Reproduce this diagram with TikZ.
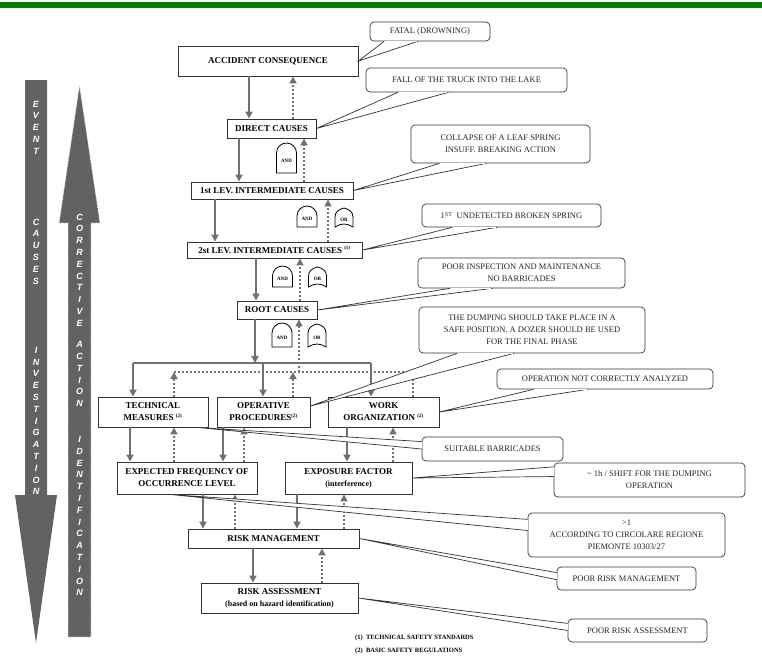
\documentclass[tikz,border=0pt]{standalone}
\usepackage{fontspec}
\setmainfont{Liberation Serif}
\newfontfamily\sansletters{Liberation Sans}
\usepackage{tikz}
\usetikzlibrary{shapes,arrows.meta,calc}

\definecolor{lineGray}{RGB}{112,112,112}
\definecolor{arrowGray}{RGB}{98,98,98}
\definecolor{barGreen}{RGB}{0,128,0}

% fault tree gates: name, x, top, height
\newcommand{\AndGate}[4]{
	\draw[Gate] (#2-10,-#3-#4) -- (#2-10,-#3-10) arc[start angle=180, end angle=0, radius=10] -- (#2+10,-#3-#4) -- cycle;
	\node[GateText] (#1) at (#2,-#3-0.6*#4) {AND};
}
\newcommand{\OrGate}[4]{
	\draw[Gate] (#2-9,-#3-#4) -- (#2-9,-#3-9) .. controls (#2-9,-#3-4) and (#2-5,-#3-1) .. (#2,-#3) .. controls (#2+5,-#3-1) and (#2+9,-#3-4) .. (#2+9,-#3-9) -- (#2+9,-#3-#4) .. controls (#2+3,-#3-#4+4) and (#2-3,-#3-#4+4) .. (#2-9,-#3-#4) -- cycle;
	\node[GateText] (#1) at (#2,-#3-0.6*#4) {OR};
}
% note tails: note, tip, from, to
\newcommand{\TailS}[4]{
	\filldraw[Tail] ($(#1.south west)!#3!(#1.south east)$) -- #2 -- ($(#1.south west)!#4!(#1.south east)$);
	\draw[white, line width=1.4pt] ($(#1.south west)!#3!(#1.south east)+(1,0)$) -- ($(#1.south west)!#4!(#1.south east)+(-1,0)$);
}
\newcommand{\TailW}[4]{
	\filldraw[Tail] ($(#1.north west)!#3!(#1.south west)$) -- #2 -- ($(#1.north west)!#4!(#1.south west)$);
	\draw[white, line width=1.4pt] ($(#1.north west)!#3!(#1.south west)+(0,-1)$) -- ($(#1.north west)!#4!(#1.south west)+(0,1)$);
}

\begin{document}
\begin{tikzpicture}[x=1pt,y=1pt]
			\tikzstyle{Box}		= [draw=black!80, line width=0.9pt, fill=white, align=center, inner sep=0pt, font=\bfseries\fontsize{9}{12}\selectfont]
			\tikzstyle{Note}	= [draw=black!80, line width=0.7pt, fill=white, rounded corners=4pt, align=center, inner sep=0pt, text=black!85, font=\fontsize{8.5}{12}\selectfont]
			\tikzstyle{Tail}	= [draw=black!80, line width=0.7pt, fill=white]
			\tikzstyle{Down}	= [draw=lineGray, line width=1.8pt, -{Triangle[length=7pt,width=7pt]}]
			\tikzstyle{Up}		= [Down, dash pattern=on 2pt off 2pt]
			\tikzstyle{Bus}		= [draw=lineGray, line width=1.8pt]
			\tikzstyle{DotBus}	= [Bus, dash pattern=on 2pt off 2pt]
			\tikzstyle{Gate}	= [draw=black, line width=0.8pt, fill=white]
			\tikzstyle{GateText}	= [inner sep=0pt, font=\bfseries\fontsize{5}{5}\selectfont]
			\tikzstyle{Letters}	= [inner sep=0pt, align=center, text=white, font=\sansletters\bfseries\itshape\fontsize{9}{11.8}\selectfont]
			\tikzstyle{Foot}	= [inner sep=0pt, anchor=west, font=\bfseries\fontsize{6.5}{8}\selectfont]

			\useasboundingbox (0,0) rectangle (762,-657);
			\fill[barGreen] (0,-2) rectangle (762,-8);

			% side arrows
			\fill[arrowGray] (25,-80) -- (47,-80) -- (47,-495) -- (57,-495) -- (36,-643) -- (15,-495) -- (25,-495) -- cycle;
			\filldraw[fill=arrowGray, draw=white, line width=0.8pt, dash pattern=on 1pt off 1.2pt] (79.5,-85) -- (100,-223) -- (91,-223) -- (91,-637) -- (68,-637) -- (68,-223) -- (59,-223) -- cycle;
			\node[Letters] (event) at (36,-127.5) {E\\V\\E\\N\\T};
			\node[Letters] (causes) at (36,-251.5) {C\\A\\U\\S\\E\\S};
			\node[Letters] (investigation) at (36,-421) {I\\N\\V\\E\\S\\T\\I\\G\\A\\T\\I\\O\\N};
			\node[Letters] (corrective) at (79.5,-270) {C\\O\\R\\R\\E\\C\\T\\I\\V\\E};
			\node[Letters] (action) at (79.5,-374) {A\\C\\T\\I\\O\\N};
			\node[Letters] (identification) at (79.5,-516) {I\\D\\E\\N\\T\\I\\F\\I\\C\\A\\T\\I\\O\\N};

			% boxes
			\node[Box, minimum width=180pt, minimum height=30pt] (acc) at (268,-61) {ACCIDENT CONSEQUENCE};
			\node[Box, minimum width=89pt, minimum height=19pt] (direct) at (271.5,-128.5) {DIRECT CAUSES};
			\node[Box, minimum width=162pt, minimum height=17pt] (lev1) at (272,-190.5) {1st LEV. INTERMEDIATE CAUSES};
			\node[Box, minimum width=175pt, minimum height=16pt] (lev2) at (274.5,-250) {2st LEV. INTERMEDIATE CAUSES \textsuperscript{\tiny(1)}};
			\node[Box, minimum width=80pt, minimum height=18pt] (root) at (277,-310) {ROOT CAUSES};
			\node[Box, minimum width=110pt, minimum height=30pt] (tech) at (153,-412) {TECHNICAL\\MEASURES \textsuperscript{\tiny(2)}};
			\node[Box, minimum width=93pt, minimum height=30pt] (oper) at (263.5,-412) {OPERATIVE\\PROCEDURES\textsuperscript{\tiny(2)}};
			\node[Box, minimum width=111pt, minimum height=30pt] (work) at (383.5,-412) {WORK\\ORGANIZATION \textsuperscript{\tiny(2)}};
			\node[Box, minimum width=140pt, minimum height=32pt] (freq) at (187,-478) {EXPECTED FREQUENCY OF\\OCCURRENCE LEVEL};
			\node[Box, minimum width=127pt, minimum height=32pt] (expo) at (348.5,-478) {EXPOSURE FACTOR\\{\fontsize{8}{12}\selectfont(interference)}};
			\node[Box, minimum width=171pt, minimum height=19pt] (rmgmt) at (273.5,-538.5) {RISK MANAGEMENT};
			\node[Box, minimum width=157pt, minimum height=30pt] (rass) at (279.5,-598) {RISK ASSESSMENT\\{\fontsize{8}{12}\selectfont(based on hazard identification)}};

			% gates
			\AndGate{and1}{286.5}{143}{30}
			\AndGate{and2}{307}{206}{21}
			\OrGate{or2}{344}{208}{19}
			\AndGate{and3}{282.5}{266}{21}
			\OrGate{or3}{317.5}{267}{20}
			\AndGate{and4}{282}{323}{24}
			\OrGate{or4}{317}{324}{23}

			% investigation (solid) and corrective (dotted) links
			\draw[Down] (acc.south -| 249,0) -- (direct.north -| 249,0);
			\draw[Up] (direct.north -| 293,0) -- (acc.south -| 293,0);
			\draw[Down] (direct.south -| 239,0) -- (lev1.north -| 239,0);
			\draw[Up] (lev1.north -| 304,0) -- (direct.south -| 304,0);
			\draw[Down] (lev1.south -| 215,0) -- (lev2.north -| 215,0);
			\draw[Up] (lev2.north -| 328,0) -- (lev1.south -| 328,0);
			\draw[Down] (lev2.south -| 256,0) -- (root.north -| 256,0);
			\draw[Up] (root.north -| 300,0) -- (lev2.south -| 300,0);

			\coordinate (bl) at (133,-363);
			\coordinate (br) at (371,-363);
			\coordinate (dl) at (174,-372);
			\coordinate (dr) at (413,-372);
			\draw[Bus] (bl) -- (br);
			\draw[DotBus] (dl) -- (dr);
			\draw[Down] (root.south -| 255,0) -- (bl -| 255,0);
			\draw[Up] (dl -| 299,0) -- (root.south -| 299,0);
			\draw[Down] (bl) -- (tech.north -| bl);
			\draw[Down] (bl -| 263,0) -- (oper.north -| 263,0);
			\draw[Down] (br) -- (work.north -| br);
			\draw[Up] (tech.north -| dl) -- (dl);
			\draw[Up] (oper.north -| 293,0) -- (dl -| 293,0);
			\draw[Up] (work.north -| dr) -- (dr);

			\draw[Down] (tech.south -| 130,0) -- (freq.north -| 130,0);
			\draw[Up] (freq.north -| 174,0) -- (tech.south -| 174,0);
			\draw[Down] (oper.south -| 223,0) -- (freq.north -| 223,0);
			\draw[Up] (freq.north -| 244,0) -- (oper.south -| 244,0);
			\draw[Down] (work.south -| 347,0) -- (expo.north -| 347,0);
			\draw[Up] (expo.north -| 393,0) -- (work.south -| 393,0);
			\draw[Down] (freq.south -| 203,0) -- (rmgmt.north -| 203,0);
			\draw[Up] (rmgmt.north -| 235,0) -- (freq.south -| 235,0);
			\draw[Down] (expo.south -| 297,0) -- (rmgmt.north -| 297,0);
			\draw[Up] (rmgmt.north -| 344,0) -- (expo.south -| 344,0);
			\draw[Down] (rmgmt.south -| 253,0) -- (rass.north -| 253,0);
			\draw[Up] (rass.north -| 322,0) -- (rmgmt.south -| 322,0);

			% case notes
			\node[Note, minimum width=120pt, minimum height=19pt] (fatal) at (430,-31.5) {FATAL (DROWNING)};
			\node[Note, minimum width=201pt, minimum height=24pt] (fall) at (466.5,-80) {FALL OF THE TRUCK INTO THE LAKE};
			\node[Note, minimum width=179pt, minimum height=38pt] (collapse) at (500.5,-144) {COLLAPSE OF A LEAF SPRING\\INSUFF. BREAKING ACTION};
			\node[Note, minimum width=179pt, minimum height=23pt] (spring) at (511.5,-215.5) {1\textsuperscript{ST}\ \ UNDETECTED BROKEN SPRING};
			\node[Note, minimum width=207pt, minimum height=30pt] (inspect) at (521.5,-273) {POOR INSPECTION AND MAINTENANCE\\NO BARRICADES};
			\node[Note, minimum width=226pt, minimum height=46pt] (dumping) at (532,-330) {THE DUMPING SHOULD TAKE PLACE IN A\\SAFE POSITION. A DOZER SHOULD BE USED\\FOR THE FINAL PHASE};
			\node[Note, minimum width=216pt, minimum height=20pt] (analyzed) at (605,-379) {OPERATION NOT CORRECTLY ANALYZED};
			\node[Note, minimum width=141pt, minimum height=24pt] (barricades) at (492.5,-449) {SUITABLE BARRICADES};
			\node[Note, minimum width=191pt, minimum height=34pt] (shift) at (649.5,-480) {\textasciitilde\ 1h / SHIFT FOR THE DUMPING\\OPERATION};
			\node[Note, minimum width=197pt, minimum height=44pt] (circolare) at (626.5,-535) {>1\\ACCORDING TO CIRCOLARE REGIONE\\PIEMONTE 10303/27};
			\node[Note, minimum width=139pt, minimum height=23pt] (poormgmt) at (626.5,-578.5) {POOR RISK MANAGEMENT};
			\node[Note, minimum width=139pt, minimum height=23pt] (poorass) at (637.5,-630.5) {POOR RISK ASSESSMENT};

			\TailS{fatal}{(acc.east)}{0.12}{0.40}
			\TailS{fall}{(direct.east)}{0.16}{0.41}
			\TailS{collapse}{(lev1.east)}{0.16}{0.42}
			\TailS{spring}{(lev2.east)}{0.17}{0.42}
			\TailS{inspect}{(root.east)}{0.155}{0.36}
			\TailS{dumping}{([yshift=6pt]oper.east)}{0.17}{0.42}
			\TailS{analyzed}{(work.east)}{0.17}{0.42}
			\TailW{barricades}{([xshift=-11pt]tech.south east)}{0.2}{0.5}
			\TailW{shift}{(expo.east)}{0.12}{0.4}
			\TailW{circolare}{([xshift=-17pt]freq.south)}{0.15}{0.4}
			\TailW{poormgmt}{(rmgmt.east)}{0.25}{0.55}
			\TailW{poorass}{(rass.east)}{0.2}{0.5}

			% footnotes
			\node[Foot] (fn1) at (355,-638) {(1)\ \ TECHNICAL SAFETY STANDARDS};
			\node[Foot] (fn2) at (355,-651) {(2)\ \ BASIC SAFETY REGULATIONS};
\end{tikzpicture}
\end{document}
